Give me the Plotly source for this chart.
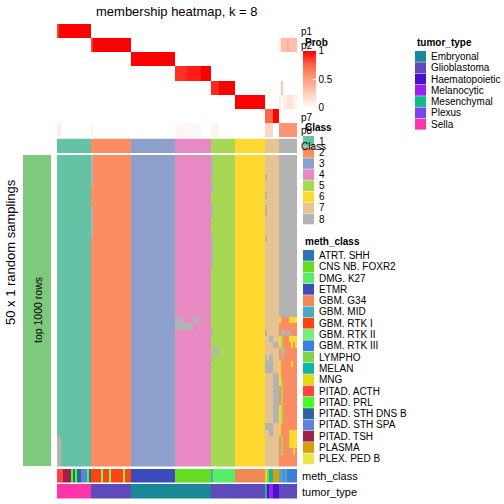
import plotly.graph_objects as go
import numpy as np

W = H = 504
def px(x): return x / W
def py(y): return 1 - y / H

FONT = "Liberation Sans"

# ---------------- data ----------------
class_labels = ["1", "2", "3", "4", "5", "6", "7", "8"]
class_colors = ["#66C2A5", "#FC8D62", "#8DA0CB", "#E78AC3", "#A6D854", "#FFD92F", "#E5C494", "#B3B3B3"]
class_sizes = [17, 20, 22, 18, 12, 15, 7, 9]   # samples per consensus class

meth_names = ["ATRT. SHH", "CNS NB. FOXR2", "DMG. K27", "ETMR", "GBM. G34", "GBM. MID", "GBM. RTK I",
              "GBM. RTK II", "GBM. RTK III", "LYMPHO", "MELAN", "MNG", "PITAD. ACTH", "PITAD. PRL",
              "PITAD. STH DNS B", "PITAD. STH SPA", "PITAD. TSH", "PLASMA", "PLEX. PED B"]
meth_colors = ["#2A74B8", "#66DD22", "#55EE66", "#3B4BBB", "#EE8855", "#4AA8C4", "#FF4411",
               "#77EE77", "#3A7FE0", "#7ED348", "#11B5A5", "#E0DA10", "#FF4444", "#44FF22",
               "#2F6699", "#5C84DD", "#A0204A", "#D4A010", "#E8E84C"]
meth_runs = [("PITAD. ACTH", 3), ("PITAD. TSH", 4), ("PITAD. PRL", 1), ("PITAD. STH DNS B", 1),
             ("PITAD. PRL", 1), ("PITAD. STH DNS B", 2), ("PITAD. STH SPA", 3), ("PITAD. PRL", 1),
             ("PITAD. STH DNS B", 1), ("GBM. RTK I", 5), ("GBM. RTK II", 1), ("GBM. RTK I", 3),
             ("GBM. RTK II", 1), ("GBM. RTK I", 6), ("GBM. RTK II", 1), ("GBM. RTK I", 3),
             ("ETMR", 22), ("CNS NB. FOXR2", 18), ("GBM. MID", 1), ("DMG. K27", 11), ("GBM. G34", 15),
             ("MNG", 1), ("LYMPHO", 1), ("MELAN", 2), ("PLASMA", 3), ("GBM. MID", 2),
             ("PITAD. STH SPA", 1), ("GBM. MID", 1), ("GBM. RTK III", 5)]

tumor_names = ["Embryonal", "Glioblastoma", "Haematopoietic", "Melanocytic", "Mesenchymal", "Plexus", "Sella"]
tumor_colors = ["#1B8899", "#5E4ABB", "#4A10CC", "#9922EE", "#11BB88", "#7744EE", "#FF33AA"]
tumor_runs = [("Sella", 17), ("Glioblastoma", 20), ("Embryonal", 40), ("Glioblastoma", 27),
              ("Mesenchymal", 1), ("Haematopoietic", 1), ("Melanocytic", 2), ("Haematopoietic", 3),
              ("Glioblastoma", 9)]

# membership probability deviations: (prob row 1..8, first col, last col, value)
prob_overrides = [
    (1, 0, 0, 0.85), (8, 0, 1, 0.10),
    (2, 17, 17, 0.85), (8, 17, 17, 0.08),
    (4, 59, 64, 0.88), (8, 59, 64, 0.05), (4, 65, 71, 0.93), (8, 65, 71, 0.04),
    (5, 77, 80, 0.90), (8, 77, 80, 0.06),
    (7, 104, 107, 0.75), (8, 104, 107, 0.22),
    (8, 111, 119, 0.55), (2, 112, 119, 0.33), (2, 115, 115, 0.40), (2, 111, 111, 0.08),
    (6, 111, 111, 0.10), (6, 113, 119, 0.08), (6, 115, 117, 0.15), (5, 112, 112, 0.30),
]

n_samplings = 50
# class assignment deviations in random samplings: (first row, last row, first col, last col, class)
sampling_overrides = [
    (45, 49, 0, 1, 8),
    (0, 4, 17, 17, 8), (8, 12, 17, 17, 8),
    (26, 26, 59, 62, 8), (26, 26, 68, 71, 8), (27, 27, 59, 67, 8),
    (0, 2, 77, 77, 8), (4, 5, 77, 77, 8), (8, 9, 77, 77, 8), (13, 17, 77, 77, 8),
    (28, 28, 77, 77, 8), (31, 31, 78, 80, 8), (32, 32, 77, 77, 8),
    (3, 3, 104, 104, 8), (6, 6, 104, 104, 8), (8, 9, 104, 104, 8), (13, 13, 104, 104, 8),
    (28, 28, 104, 104, 8), (29, 29, 106, 107, 8), (30, 30, 108, 110, 8), (32, 32, 104, 104, 8),
    (32, 32, 106, 107, 8), (33, 34, 104, 107, 8), (35, 42, 108, 110, 8), (43, 43, 104, 107, 8),
    (44, 44, 106, 107, 8),
    (26, 49, 111, 119, 2),
    (26, 26, 111, 111, 6), (26, 26, 116, 119, 6),
    (28, 28, 112, 113, 8), (28, 28, 115, 116, 8),
    (29, 29, 116, 119, 6), (29, 31, 112, 112, 5),
    (30, 30, 117, 117, 6), (30, 30, 119, 119, 6),
    (31, 31, 113, 113, 8), (32, 32, 112, 112, 8),
    (33, 33, 117, 117, 6),
    (36, 42, 112, 112, 5),
    (44, 46, 116, 119, 6), (45, 47, 112, 112, 5), (47, 47, 118, 118, 6),
    (29, 30, 111, 111, 6), (33, 36, 111, 111, 6), (40, 44, 111, 111, 6),
]

# ---------------- build matrices ----------------
cls = np.concatenate([[i + 1] * n for i, n in enumerate(class_sizes)])
N = len(cls)

prob = np.zeros((8, N))
for j, c in enumerate(cls):
    prob[c - 1, j] = 1.0
for r, a, b, v in prob_overrides:
    prob[r - 1, a:b + 1] = v

main = np.tile(cls, (n_samplings, 1)).astype(float)
for r0, r1, c0, c1, k in sampling_overrides:
    main[r0:r1 + 1, c0:c1 + 1] = k

meth_idx = []
for name, n in meth_runs:
    meth_idx += [meth_names.index(name)] * n
tumor_idx = []
for name, n in tumor_runs:
    tumor_idx += [tumor_names.index(name)] * n


def discrete_scale(colors):
    n = len(colors)
    sc = []
    for i, c in enumerate(colors):
        sc.append([i / n, c])
        sc.append([(i + 1) / n, c])
    return sc


prob_scale = [[0, "#FFFFFF"], [0.25, "#FFCFBE"], [0.5, "#FF9E81"], [0.75, "#FF6746"], [1, "#FF0000"]]

fig = go.Figure()

# panels: (ytop, ybottom in pixels)
panels = {
    1: (24, 137),
    2: (138.5, 153),
    3: (155, 466.5),
    4: (469, 482.5),
    5: (484, 498.5),
}

fig.add_trace(go.Heatmap(z=prob, zmin=0, zmax=1, colorscale=prob_scale, xaxis="x", yaxis="y",
                         hoverinfo="skip",
                         colorbar=dict(x=px(302.7), xanchor="left", xpad=0, y=py(50.7), yanchor="top",
                                       ypad=0, len=57, lenmode="pixels", thickness=12.5,
                                       thicknessmode="pixels", tickvals=[0, 0.5, 1],
                                       ticktext=["0", "0.5", "1"], ticks="inside", ticklen=3,
                                       tickcolor="white", outlinewidth=0,
                                       tickfont=dict(family=FONT, size=10, color="black"))))
fig.add_trace(go.Heatmap(z=[cls], zmin=0.5, zmax=8.5, colorscale=discrete_scale(class_colors),
                         showscale=False, xaxis="x2", yaxis="y2", hoverinfo="skip"))
fig.add_trace(go.Heatmap(z=main, zmin=0.5, zmax=8.5, colorscale=discrete_scale(class_colors),
                         showscale=False, xaxis="x3", yaxis="y3", hoverinfo="skip"))
fig.add_trace(go.Heatmap(z=[meth_idx], zmin=-0.5, zmax=len(meth_names) - 0.5,
                         colorscale=discrete_scale(meth_colors), showscale=False,
                         xaxis="x4", yaxis="y4", hoverinfo="skip"))
fig.add_trace(go.Heatmap(z=[tumor_idx], zmin=-0.5, zmax=len(tumor_names) - 0.5,
                         colorscale=discrete_scale(tumor_colors), showscale=False,
                         xaxis="x5", yaxis="y5", hoverinfo="skip"))

nrows = {1: 8, 2: 1, 3: n_samplings, 4: 1, 5: 1}
layout = {}
for i, (yt, yb) in panels.items():
    sfx = "" if i == 1 else str(i)
    layout["xaxis" + sfx] = dict(domain=[px(57), px(297)], range=[-0.5, N - 0.5], visible=False,
                                 anchor="y" + sfx, fixedrange=True)
    layout["yaxis" + sfx] = dict(domain=[py(yb), py(yt)], range=[nrows[i] - 0.5, -0.5], visible=False,
                                 anchor="x" + sfx, fixedrange=True)
fig.update_layout(**layout)

shapes = []
ann = []

def text(x, y, s, size=10, bold=False, xanchor="left", angle=0):
    ann.append(dict(x=px(x), y=py(y), xref="paper", yref="paper", text=("<b>%s</b>" % s) if bold else s,
                    showarrow=False, xanchor=xanchor, yanchor="middle", textangle=angle,
                    font=dict(family=FONT, size=size, color="black")))

def rect(x0, y0, x1, y1, color):
    shapes.append(dict(type="rect", xref="paper", yref="paper", x0=px(x0), x1=px(x1), y0=py(y1), y1=py(y0),
                       fillcolor=color, line=dict(width=0), layer="above"))

# left split block
rect(23, 155, 51, 466, "#7FC97F")
text(38, 310, "top 1000 rows", size=10.5, xanchor="center", angle=-90)
text(10, 252, "50 x 1 random samplings", size=13, xanchor="center", angle=-90)

# title
text(177, 11, "membership heatmap, k = 8", size=13, xanchor="center")

# row names
text(299, 31, "p1")
text(299, 45, "p2")
text(299, 117, "p7")
text(299, 131, "p8")
text(299, 146, "Class")
text(300, 476, "meth_class", size=11)
text(300, 491.5, "tumor_type", size=11)

# legends
text(303, 42, "Prob", bold=True)

text(303, 127, "Class", bold=True)
for i, (lab, col) in enumerate(zip(class_labels, class_colors)):
    y0 = 136 + i * 11.1
    rect(303, y0, 314, y0 + 10.6, col)
    text(317, y0 + 5.3, lab)

text(415, 42, "tumor_type", bold=True)
for i, (lab, col) in enumerate(zip(tumor_names, tumor_colors)):
    y0 = 51 + i * 11.3
    rect(415, y0, 426, y0 + 10.8, col)
    text(429, y0 + 5.4, lab)

text(303, 241, "meth_class", bold=True)
for i, (lab, col) in enumerate(zip(meth_names, meth_colors)):
    y0 = 250 + i * 11.3
    rect(303, y0, 314, y0 + 10.8, col)
    text(317, y0 + 5.4, lab)

fig.update_layout(width=W, height=H, margin=dict(l=0, r=0, t=0, b=0), paper_bgcolor="white",
                  plot_bgcolor="white", shapes=shapes, annotations=ann, showlegend=False,
                  font=dict(family=FONT))

fig.write_html("out.html", post_script="document.body.style.margin='0';",
               config={"displayModeBar": False})
